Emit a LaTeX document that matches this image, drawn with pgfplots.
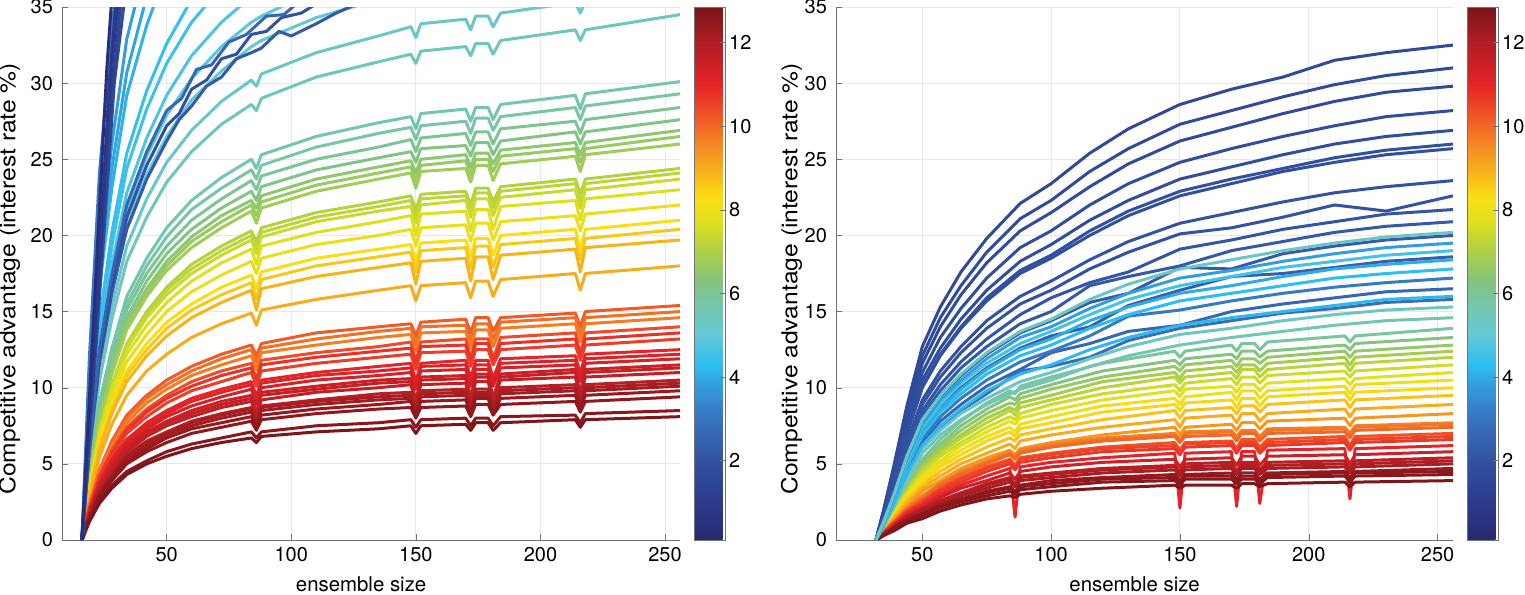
\documentclass[border=0pt]{standalone}
\usepackage{fontspec}
\setmainfont{TeX Gyre Heros}
\newfontfamily\ylabfont[FakeStretch=1.12]{TeX Gyre Heros}
\usepackage{pgfplots}
\usepackage{pgfplotstable}
\pgfplotsset{compat=1.18}
\pgfplotsset{
  colormap={mymap}{rgb255(1pt)=(38,42,110); rgb255(10pt)=(44,58,140); rgb255(20pt)=(50,82,162); rgb255(30pt)=(56,116,192); rgb255(37pt)=(50,152,218); rgb255(43pt)=(45,190,240); rgb255(50pt)=(100,200,215); rgb255(57pt)=(118,198,170); rgb255(63pt)=(132,196,128); rgb255(70pt)=(172,207,70); rgb255(77pt)=(222,224,30); rgb255(83pt)=(250,222,20); rgb255(90pt)=(248,172,28); rgb255(95pt)=(245,140,35); rgb255(103pt)=(240,82,40); rgb255(110pt)=(230,35,40); rgb255(120pt)=(176,30,35); rgb255(128.5pt)=(122,20,25)},
  ln/.style={color of colormap=#1, line width=1.5pt, line join=round},
  panel/.style={
    scale only axis, width=309pt, height=266.5pt,
    ymin=0, ymax=35, xmax=256,
    ytick={0,5,...,35}, xtick={50,100,...,250},
    axis lines*=left, axis line style={-, black!55},
    tick style={black!55}, major tick length=3pt, tick align=inside,
    grid=major, major grid style={black!9, line width=0.5pt},
    tick label style={font=\fontsize{10}{12}\selectfont},
    yticklabel style={xshift=-1pt},
    /pgf/number format/assume math mode=true,
    xlabel={ensemble size},
    ylabel={Competitive advantage (interest rate \%)},
    xlabel style={font=\fontsize{10.2}{12}\selectfont, at={(axis description cs:0.484,-0.0957)}, anchor=base},
    ylabel style={font=\ylabfont\fontsize{11}{13}\selectfont, anchor=center},
    colorbar, point meta min=0.1, point meta max=12.85,
    colorbar style={
      at={(parent axis.north east)}, anchor=north west, xshift=-1.5pt,
      width=15.5pt,
      ytick={2,4,...,12},
      ytick pos=right, yticklabel pos=right,
      tick align=inside, major tick length=2.5pt,
      tick style={black!55}, axis line style={black!55},
      yticklabel style={font=\fontsize{10}{12}\selectfont, xshift=-1.5pt},
      /pgf/number format/assume math mode=true,
    },
  },
}

\pgfplotstableread{
id c1 c2 c3 c4 c5 c6 c7 c8 c9 c10 c11 c12 c13 c14 c15 c16 c17 c18 c19 c20 c21 c22 c23 c24 c25 c26 c27
x 16 19 23 28 34 42 50 60 72 84 86 88 110 135 148 150 152 170 172 174 179 181 184 214 216 218 256
a1 0 1.2 2.4 3.4 4.3 5.0 5.5 6.0 6.4 6.7 6.4 6.8 7.1 7.3 7.5 7.0 7.5 7.6 7.2 7.7 7.7 7.2 7.7 7.9 7.4 7.9 8.1
a2 0 1.3 2.6 3.6 4.5 5.2 5.8 6.3 6.7 7.1 6.7 7.1 7.5 7.7 7.9 7.4 7.9 8.0 7.5 8.0 8.0 7.5 8.1 8.2 7.7 8.3 8.5
a3 0 1.4 2.8 3.9 5.0 5.8 6.4 7.0 7.4 7.8 7.2 7.9 8.3 8.6 8.7 8.0 8.7 8.8 8.1 8.9 8.9 8.2 8.9 9.1 8.4 9.1 9.4
a4 0 1.5 2.9 4.1 5.2 6.0 6.7 7.3 7.7 8.1 7.4 8.2 8.6 8.9 9.1 8.2 9.1 9.2 8.3 9.3 9.3 8.3 9.3 9.5 8.6 9.5 9.8
a5 0 1.5 3.0 4.2 5.4 6.2 6.9 7.5 8.0 8.4 7.4 8.5 8.9 9.2 9.3 8.2 9.4 9.5 8.4 9.5 9.5 8.4 9.6 9.8 8.6 9.8 10.1
a6 0 1.6 3.2 4.4 5.6 6.5 7.1 7.8 8.3 8.7 7.9 8.8 9.2 9.6 9.7 8.7 9.8 9.9 8.9 9.9 9.9 8.9 10.0 10.2 9.2 10.2 10.5
a7 0 1.7 3.3 4.6 5.8 6.8 7.5 8.1 8.7 9.1 8.1 9.2 9.7 10.0 10.2 9.0 10.2 10.3 9.1 10.4 10.4 9.1 10.5 10.7 9.4 10.7 11.0
a8 0 1.7 3.5 4.8 6.1 7.1 7.8 8.5 9.1 9.5 8.3 9.7 10.1 10.5 10.6 9.1 10.7 10.8 9.3 10.9 10.9 9.3 10.9 11.2 9.6 11.2 11.5
a9 0 1.8 3.6 5.0 6.3 7.3 8.1 8.8 9.4 9.9 8.9 10.0 10.5 10.8 11.0 9.9 11.1 11.2 10.1 11.2 11.2 10.1 11.3 11.5 10.4 11.6 11.9
a10 0 1.9 3.8 5.3 6.6 7.7 8.5 9.3 9.9 10.4 9.4 10.5 11.0 11.4 11.6 10.4 11.6 11.8 10.6 11.8 11.8 10.6 11.9 12.1 10.9 12.2 12.5
a11 0 2.0 4.0 5.5 7.0 8.1 9.0 9.8 10.4 11.0 10.1 11.1 11.6 12.0 12.2 11.2 12.3 12.4 11.4 12.5 12.5 11.5 12.5 12.8 11.8 12.8 13.2
a12 0 2.1 4.2 5.9 7.4 8.6 9.5 10.4 11.1 11.6 10.5 11.8 12.3 12.7 13.0 11.7 13.0 13.2 11.9 13.2 13.2 11.9 13.3 13.6 12.2 13.6 14.0
a13 0 2.2 4.4 6.1 7.7 9.0 9.9 10.8 11.5 12.1 11.2 12.3 12.8 13.3 13.5 12.4 13.6 13.7 12.6 13.8 13.8 12.7 13.9 14.2 13.0 14.2 14.6
a14 0 2.3 4.6 6.5 8.2 9.5 10.5 11.4 12.2 12.8 12.1 12.9 13.6 14.0 14.2 13.4 14.3 14.5 13.6 14.6 14.6 13.7 14.6 14.9 14.0 15.0 15.4
a15 0 2.7 5.4 7.6 9.5 11.1 12.2 13.3 14.2 14.9 14.1 15.1 15.8 16.4 16.7 15.7 16.7 16.9 15.9 17.0 17.0 16.0 17.1 17.5 16.4 17.5 18.0
a16 0 3.0 5.9 8.3 10.4 12.1 13.4 14.6 15.6 16.4 15.1 16.5 17.3 17.9 18.2 16.8 18.3 18.5 17.0 18.6 18.6 17.1 18.7 19.1 17.6 19.2 19.7
a17 0 3.1 6.1 8.6 10.8 12.5 13.9 15.1 16.1 16.9 15.8 17.1 18.0 18.6 18.9 17.6 19.0 19.2 17.8 19.3 19.3 17.9 19.4 19.8 18.4 19.8 20.4
a18 0 3.2 6.3 8.8 11.1 12.9 14.3 15.5 16.6 17.4 16.5 17.6 18.5 19.1 19.4 18.3 19.5 19.7 18.6 19.8 19.8 18.7 20.0 20.4 19.1 20.4 21.0
a19 0 3.3 6.6 9.2 11.7 13.5 15.0 16.3 17.4 18.3 17.5 18.5 19.4 20.0 20.4 19.3 20.5 20.7 19.6 20.8 20.8 19.7 20.9 21.3 20.3 21.4 22.0
a20 0 3.5 6.9 9.7 12.2 14.1 15.6 17.0 18.2 19.1 18.1 19.3 20.2 20.9 21.3 20.0 21.4 21.6 20.3 21.7 21.7 20.4 21.9 22.3 21.0 22.4 23.0
a21 0 3.6 7.1 10.0 12.6 14.6 16.1 17.5 18.7 19.7 18.8 19.9 20.9 21.6 21.9 20.8 22.0 22.3 21.2 22.4 22.4 21.3 22.5 23.0 21.8 23.0 23.7
a22 0 3.7 7.3 10.2 12.9 15.0 16.6 18.1 19.3 20.3 19.6 20.5 21.5 22.2 22.6 21.7 22.7 22.9 22.0 23.1 23.1 22.2 23.2 23.7 22.7 23.7 24.4
a23 0 3.9 7.8 10.9 13.8 16.0 17.7 19.2 20.5 21.6 20.8 21.8 22.9 23.7 24.1 23.1 24.2 24.4 23.5 24.6 24.6 23.6 24.7 25.2 24.2 25.3 26.0
a24 0 4.0 8.1 11.3 14.3 16.5 18.3 19.9 21.3 22.3 21.8 22.6 23.7 24.5 24.9 24.1 25.0 25.3 24.5 25.4 25.4 24.7 25.6 26.1 25.3 26.1 26.9
a25 0 4.1 8.3 11.6 14.6 17.0 18.8 20.4 21.8 22.9 22.3 23.2 24.3 25.1 25.5 24.8 25.7 25.9 25.2 26.1 26.1 25.3 26.2 26.8 26.0 26.8 27.6
a26 0 4.3 8.5 11.9 15.1 17.5 19.3 21.0 22.4 23.6 23.0 23.9 25.0 25.8 26.3 25.5 26.4 26.7 25.9 26.8 26.8 26.0 27.0 27.5 26.7 27.6 28.4
a27 0 4.4 8.8 12.3 15.5 18.0 19.9 21.7 23.1 24.3 23.7 24.6 25.8 26.7 27.1 26.3 27.2 27.5 26.7 27.7 27.7 26.9 27.8 28.4 27.6 28.5 29.3
a28 0 4.5 9.0 12.6 16.0 18.5 20.5 22.3 23.8 25.0 24.4 25.3 26.5 27.4 27.8 27.0 28.0 28.3 27.5 28.4 28.4 27.6 28.6 29.2 28.3 29.3 30.1
a29 0 5.2 10.4 14.5 18.3 21.2 23.5 25.5 27.3 28.6 28.2 29.0 30.4 31.4 31.9 31.3 32.1 32.4 31.8 32.6 32.6 31.9 32.8 33.5 32.8 33.5 34.5
a30 0 5.5 10.9 15.3 19.3 22.4 24.8 26.9 28.8 30.2 29.8 30.6 32.0 33.1 33.7 33.0 33.9 34.2 33.5 34.4 34.4 33.7 34.6 35.3 34.6 35.4 36.4
e1 0 1.6 3.1 4.3 5.5 6.4 7.0 7.7 8.2 8.6 7.7 8.7 9.1 9.4 9.5 8.5 9.6 9.7 8.7 9.7 9.7 8.7 9.8 10.0 8.9 10.0 10.3
e2 0 1.7 3.4 4.7 6.0 7.0 7.7 8.3 8.9 9.3 9.0 9.5 9.9 10.3 10.4 9.0 10.5 10.6 9.2 10.7 10.7 9.2 10.7 11.0 9.5 11.0 11.3
e3 0 1.9 3.7 5.2 6.5 7.5 8.3 9.1 9.7 10.2 9.2 10.3 10.8 11.1 11.3 10.2 11.4 11.5 10.4 11.5 11.5 10.4 11.6 11.8 10.7 11.9 12.2
e4 0 2.1 4.1 5.7 7.2 8.4 9.3 10.1 10.8 11.3 10.3 11.5 12.0 12.4 12.6 11.5 12.7 12.8 11.7 12.9 12.9 11.7 12.9 13.2 12.0 13.2 13.6
e5 0 2.3 4.5 6.3 8.0 9.3 10.2 11.1 11.9 12.5 11.7 12.6 13.2 13.7 13.9 12.9 14.0 14.1 13.1 14.2 14.2 13.2 14.3 14.6 13.5 14.6 15.0
e6 0 3.7 7.2 10.1 12.8 14.8 16.4 17.8 19.0 20.0 19.2 20.2 21.2 21.9 22.3 21.3 22.4 22.6 21.6 22.8 22.8 21.8 22.9 23.4 22.3 23.4 24.1
e7 0 4.0 8.0 11.1 14.1 16.3 18.0 19.6 20.9 22.0 21.3 22.2 23.3 24.1 24.5 23.6 24.6 24.9 24.0 25.0 25.0 24.2 25.2 25.7 24.8 25.7 26.5
}\LAraw
\pgfplotstabletranspose[colnames from=id, columns={c1,c2,c3,c4,c5,c6,c7,c8,c9,c10,c11,c12,c13,c14,c15,c16,c17,c18,c19,c20,c21,c22,c23,c24,c25,c26,c27}]{\LA}{\LAraw}

\pgfplotstableread{
id c1 c2 c3 c4 c5 c6 c7 c8 c9 c10 c11 c12 c13 c14 c15 c16 c17 c18
x 32 35 39 44 50 57 65 75 88 100 115 130 150 170 190 210 230 256
b1 0 0.9 2.2 3.9 5.7 6.9 7.9 8.9 9.9 10.5 11.4 12.1 12.8 13.3 13.7 14.1 14.4 14.6
b2 0 0.9 2.3 4.1 6.0 7.2 8.3 9.3 10.4 11.0 11.9 12.7 13.5 13.9 14.4 14.8 15.1 15.3
b3 0 0.9 2.4 4.3 6.2 7.4 8.5 9.6 11.1 11.4 12.0 13.1 13.9 14.4 14.9 15.2 15.6 15.8
b4 0 1.0 2.5 4.5 6.4 7.8 8.9 10.1 11.2 12.3 12.9 13.7 14.1 15.0 15.5 15.9 16.3 16.5
b5 0 1.0 2.6 4.6 6.7 8.1 9.3 10.5 11.7 12.4 13.4 14.7 15.1 15.7 16.2 16.6 16.9 17.2
b6 0 1.1 2.7 4.8 6.9 8.4 9.6 10.9 12.1 12.8 13.9 14.8 15.7 16.2 16.7 17.2 17.5 17.8
b7 0 1.1 2.8 5.0 7.2 8.6 9.9 11.2 12.5 13.2 14.4 15.3 16.2 16.7 17.3 17.8 18.1 18.4
b8 0 1.1 2.9 5.1 7.4 8.9 10.3 11.6 12.9 13.7 14.8 15.8 16.7 17.3 17.9 18.3 18.7 19.0
b9 0 1.2 2.9 5.3 7.6 9.2 10.5 11.9 13.3 14.0 15.2 16.2 17.2 17.7 18.3 18.8 19.2 19.5
b10 0 1.2 3.0 5.5 7.9 9.5 10.9 12.3 13.7 14.5 15.8 16.8 17.8 18.4 19.0 19.5 19.9 20.2
b11 0 1.2 3.0 5.4 7.8 9.4 10.8 12.2 13.6 14.4 15.6 16.2 17.9 17.8 18.8 19.3 19.7 20.0
b12 0 1.3 3.1 5.6 8.2 9.8 11.3 12.7 14.2 15.0 16.7 17.3 18.0 19.0 19.6 20.2 20.6 20.9
b13 0 1.3 3.3 5.9 8.5 10.2 11.7 13.2 14.8 15.9 16.9 17.6 19.1 19.7 20.4 20.9 21.4 21.7
b14 0 1.4 3.4 6.2 8.9 10.7 12.3 13.9 15.5 16.4 17.8 18.9 20.1 20.5 21.2 22.0 21.6 22.6
b15 0 1.4 3.5 6.4 9.2 11.1 12.7 14.4 16.0 17.0 18.4 19.6 20.8 21.5 22.2 22.8 23.2 23.6
b16 0 1.5 3.9 6.9 10.0 12.1 13.9 15.7 17.5 18.5 20.0 21.3 22.6 23.4 24.2 24.8 25.3 25.7
b17 0 1.6 4.0 7.3 10.5 12.6 14.5 16.4 18.3 19.4 21.0 22.3 23.7 24.5 25.3 26.0 26.5 26.9
b18 0 1.7 4.2 7.6 11.0 13.3 15.2 17.2 19.2 20.3 22.0 23.4 24.8 25.7 26.5 27.2 27.8 28.2
b19 0 1.8 4.5 8.0 11.6 14.0 16.1 18.2 20.3 21.5 23.2 24.7 26.2 27.1 28.0 28.8 29.4 29.8
b20 0 1.9 4.7 8.4 12.1 14.6 16.7 18.9 21.1 22.3 24.2 25.7 27.3 28.2 29.1 29.9 30.5 31.0
b21 0 2.0 4.9 8.8 12.7 15.3 17.6 19.8 22.1 23.4 25.4 27.0 28.6 29.6 30.4 31.5 32.0 32.5
b22 0 1.0 2.4 4.3 6.2 7.5 8.6 9.8 10.9 11.5 12.5 13.3 14.1 14.6 15.0 15.4 15.8 16.0
b23 0 1.1 2.8 5.0 7.3 8.7 10.0 11.3 12.6 13.4 14.0 15.4 16.4 17.3 17.5 17.9 18.3 18.6
b24 0 1.6 3.9 7.0 10.1 12.2 14.0 15.9 17.7 18.7 20.3 21.6 22.9 23.7 24.4 25.1 25.6 26.0
}\RBraw
\pgfplotstabletranspose[colnames from=id, columns={c1,c2,c3,c4,c5,c6,c7,c8,c9,c10,c11,c12,c13,c14,c15,c16,c17,c18}]{\RB}{\RBraw}

\pgfplotstableread{
id c1 c2 c3 c4 c5 c6 c7 c8 c9 c10 c11 c12 c13 c14 c15 c16 c17 c18 c19 c20 c21 c22 c23 c24 c25 c26
x 32 35 39 44 50 57 65 75 84 86 88 100 120 148 150 152 170 172 174 179 181 184 214 216 218 256
r1 0 0.3 0.6 1.1 1.4 1.9 2.3 2.7 2.9 2.8 3.0 3.2 3.4 3.6 3.4 3.6 3.6 3.4 3.7 3.7 3.5 3.7 3.8 3.5 3.8 3.9
r2 0 0.3 0.7 1.2 1.6 2.1 2.5 2.9 3.2 3.0 3.3 3.5 3.8 3.9 3.6 4.0 4.0 3.7 4.0 4.0 3.7 4.1 4.2 3.8 4.2 4.3
r3 0 0.3 0.8 1.3 1.7 2.3 2.7 3.2 3.5 3.2 3.6 3.9 4.1 4.3 3.9 4.3 4.4 4.0 4.4 4.4 4.0 4.4 4.5 4.1 4.5 4.7
r4 0 0.4 0.8 1.4 1.9 2.4 2.9 3.4 3.8 3.5 3.9 4.1 4.4 4.6 4.2 4.6 4.7 4.3 4.7 4.7 4.3 4.7 4.8 4.4 4.8 5.0
r5 0 0.4 0.9 1.5 2.0 2.6 3.1 3.7 4.1 3.7 4.2 4.4 4.7 4.9 4.5 5.0 5.1 4.5 5.1 5.1 4.6 5.1 5.2 4.7 5.2 5.4
r6 0 0.4 0.9 1.6 2.1 2.8 3.4 3.9 4.4 4.0 4.5 4.8 5.1 5.3 4.8 5.3 5.4 4.9 5.5 5.5 4.9 5.5 5.6 5.0 5.6 5.8
r7 0 0.4 1.0 1.7 2.3 3.0 3.6 4.2 4.7 1.5 4.8 5.1 5.4 5.7 2.1 5.7 5.8 2.2 5.8 5.8 2.4 5.9 6.0 2.7 6.0 6.2
r8 0 0.5 1.1 1.8 2.4 3.2 3.8 4.5 5.0 4.6 5.1 5.4 5.8 6.0 5.6 6.1 6.2 5.7 6.2 6.2 5.7 6.2 6.4 5.9 6.4 6.6
r9 0 0.5 1.1 1.9 2.6 3.4 4.1 4.8 5.3 4.9 5.4 5.7 6.1 6.4 5.9 6.4 6.5 6.0 6.6 6.6 6.1 6.6 6.8 6.2 6.8 7.0
r10 0 0.5 1.2 2.0 2.7 3.6 4.3 5.0 5.6 5.3 5.7 6.1 6.5 6.8 6.4 6.8 6.9 6.5 7.0 7.0 6.5 7.0 7.1 6.7 7.2 7.4
r11 0 0.5 1.2 2.1 2.9 3.7 4.5 5.2 5.8 5.5 5.9 6.3 6.7 7.0 6.6 7.1 7.2 6.8 7.2 7.2 6.8 7.3 7.4 7.0 7.5 7.7
m1 0 0.5 1.3 2.2 3.2 3.9 4.7 5.4 5.9 5.6 6.0 6.4 6.9 7.4 6.9 7.4 7.6 7.2 7.7 7.7 7.3 7.8 8.0 7.5 8.0 8.3
m2 0 0.6 1.4 2.4 3.4 4.2 5.0 5.7 6.3 6.0 6.5 6.9 7.4 7.9 7.4 8.0 8.2 7.7 8.3 8.3 7.8 8.3 8.6 8.1 8.6 8.9
m3 0 0.6 1.5 2.6 3.6 4.5 5.3 6.1 6.7 6.5 6.9 7.3 7.9 8.5 8.0 8.5 8.7 8.3 8.8 8.8 8.4 8.9 9.2 8.7 9.2 9.5
m4 0 0.7 1.6 2.7 3.8 4.8 5.6 6.5 7.1 6.8 7.3 7.7 8.4 8.9 8.5 9.0 9.2 8.7 9.3 9.3 8.8 9.4 9.7 9.2 9.7 10.0
m5 0 0.7 1.6 2.8 4.0 5.0 5.9 6.8 7.4 7.1 7.6 8.1 8.8 9.3 8.9 9.4 9.7 9.2 9.8 9.8 9.3 9.8 10.1 9.6 10.2 10.5
m6 0 0.7 1.7 3.0 4.2 5.2 6.2 7.1 7.8 7.6 8.0 8.5 9.2 9.8 9.4 9.9 10.1 9.7 10.2 10.2 9.8 10.3 10.6 10.2 10.6 11.0
m7 0 0.7 1.8 3.1 4.4 5.5 6.4 7.4 8.1 7.9 8.3 8.9 9.6 10.2 9.8 10.3 10.6 10.2 10.7 10.7 10.3 10.8 11.1 10.7 11.1 11.5
m8 0 0.8 1.9 3.2 4.6 5.7 6.7 7.7 8.5 8.2 8.7 9.2 10.0 10.7 10.3 10.7 11.0 10.6 11.2 11.2 10.7 11.2 11.6 11.1 11.6 12.0
m9 0 0.8 1.9 3.3 4.7 5.9 6.9 8.0 8.7 8.5 9.0 9.5 10.4 11.0 10.6 11.1 11.4 11.0 11.5 11.5 11.1 11.6 12.0 11.5 12.0 12.4
m10 0 0.8 2.0 3.5 4.9 6.1 7.2 8.3 9.0 8.9 9.3 9.9 10.7 11.4 11.1 11.5 11.8 11.4 11.9 11.9 11.6 12.0 12.4 12.0 12.4 12.8
m11 0 0.9 2.1 3.6 5.1 6.3 7.5 8.6 9.4 9.2 9.6 10.2 11.1 11.8 11.5 11.9 12.2 11.9 12.4 12.4 12.0 12.4 12.8 12.5 12.9 13.3
m12 0 0.9 2.2 3.8 5.3 6.6 7.8 9.0 9.8 9.6 10.1 10.7 11.6 12.4 12.0 12.4 12.8 12.4 12.9 12.9 12.5 13.0 13.4 13.0 13.4 13.9
q1 0 0.3 0.8 1.3 1.7 2.2 2.6 3.1 3.4 3.1 3.5 3.7 4.0 4.1 3.8 4.2 4.2 3.9 4.2 4.2 3.9 4.3 4.4 4.0 4.4 4.5
q2 0 0.4 0.9 1.5 2.0 2.5 3.0 3.6 4.0 3.6 4.1 4.3 4.6 4.8 4.4 4.8 4.9 4.4 4.9 4.9 4.5 4.9 5.0 4.6 5.0 5.2
q3 0 0.5 1.1 1.9 2.5 3.3 4.0 4.7 5.2 4.8 5.3 5.6 6.0 6.2 5.8 6.3 6.4 5.9 6.4 6.4 5.9 6.4 6.6 6.1 6.6 6.8
q4 0 0.5 1.2 2.1 2.8 3.7 4.4 5.1 5.7 5.4 5.8 6.2 6.6 6.9 6.5 7.0 7.1 6.7 7.1 7.1 6.7 7.2 7.3 6.9 7.4 7.6
}\RRraw
\pgfplotstabletranspose[colnames from=id, columns={c1,c2,c3,c4,c5,c6,c7,c8,c9,c10,c11,c12,c13,c14,c15,c16,c17,c18,c19,c20,c21,c22,c23,c24,c25,c26}]{\RR}{\RRraw}

\begin{document}
\begin{tikzpicture}
\path[use as bounding box] (0,0) rectangle (762.5pt,297pt);
% ---------------- left panel ----------------
\begin{axis}[panel, at={(31pt,27pt)}, anchor=south west, xmin=8,
  ylabel style={at={(axis description cs:-0.085,0.49)}}]
\addplot[ln=400] table[x=x,y=a30]{\LA};
\addplot[ln=416] table[x=x,y=a29]{\LA};
\addplot[ln=431] table[x=x,y=a28]{\LA};
\addplot[ln=447] table[x=x,y=a27]{\LA};
\addplot[ln=463] table[x=x,y=a26]{\LA};
\addplot[ln=478] table[x=x,y=a25]{\LA};
\addplot[ln=514] table[x=x,y=e7]{\LA};
\addplot[ln=502] table[x=x,y=a24]{\LA};
\addplot[ln=525] table[x=x,y=a23]{\LA};
\addplot[ln=549] table[x=x,y=a22]{\LA};
\addplot[ln=561] table[x=x,y=e6]{\LA};
\addplot[ln=573] table[x=x,y=a21]{\LA};
\addplot[ln=596] table[x=x,y=a20]{\LA};
\addplot[ln=620] table[x=x,y=a19]{\LA};
\addplot[ln=643] table[x=x,y=a18]{\LA};
\addplot[ln=667] table[x=x,y=a17]{\LA};
\addplot[ln=690] table[x=x,y=a16]{\LA};
\addplot[ln=698] table[x=x,y=a15]{\LA};
\addplot[ln=792] table[x=x,y=a14]{\LA};
\addplot[ln=769] table[x=x,y=e5]{\LA};
\addplot[ln=753] table[x=x,y=a13]{\LA};
\addplot[ln=808] table[x=x,y=a12]{\LA};
\addplot[ln=839] table[x=x,y=e4]{\LA};
\addplot[ln=824] table[x=x,y=a11]{\LA};
\addplot[ln=855] table[x=x,y=a10]{\LA};
\addplot[ln=863] table[x=x,y=e3]{\LA};
\addplot[ln=878] table[x=x,y=a9]{\LA};
\addplot[ln=894] table[x=x,y=a8]{\LA};
\addplot[ln=902] table[x=x,y=e2]{\LA};
\addplot[ln=910] table[x=x,y=a7]{\LA};
\addplot[ln=925] table[x=x,y=a6]{\LA};
\addplot[ln=941] table[x=x,y=e1]{\LA};
\addplot[ln=949] table[x=x,y=a5]{\LA};
\addplot[ln=965] table[x=x,y=a4]{\LA};
\addplot[ln=973] table[x=x,y=a3]{\LA};
\addplot[ln=980] table[x=x,y=a2]{\LA};
\addplot[ln=996] table[x=x,y=a1]{\LA};
% blue lines leaving the top
\addplot[ln=384] coordinates {(16,0)(19,5.9)(23,11.7)(28,16.4)(34,20.7)(42,24.0)(50,26.5)(60,28.9)(72,30.8)(84,32.4)(88,32.8)(110,34.3)(135,35.5)};
\addplot[ln=376] coordinates {(16,0)(19,6.2)(23,12.3)(28,17.2)(34,21.7)(42,25.2)(50,27.9)(60,30.3)(72,32.4)(84,34.0)(88,34.4)(110,36.1)};
\addplot[ln=361] coordinates {(16,0)(19,6.5)(23,12.9)(28,18.1)(34,22.8)(42,26.4)(50,29.2)(60,31.8)(72,34.0)(84,35.7)};
\addplot[ln=345] coordinates {(16,0)(19,6.9)(23,13.8)(28,19.3)(34,24.4)(42,28.3)(50,31.3)(60,34.0)(72,36.3)};
\addplot[ln=337] coordinates {(16,0)(19,7.2)(23,14.4)(28,20.2)(34,25.4)(42,29.5)(50,32.6)(60,35.5)};
\addplot[ln=314] coordinates {(16,0)(19,8.3)(23,16.5)(28,23.1)(34,29.2)(42,33.8)(50,37.4)};
\addplot[ln=298] coordinates {(16,0)(19,8.7)(23,17.4)(28,24.4)(34,30.7)(42,35.7)};
\addplot[ln=290] coordinates {(16,0)(19,9.3)(23,18.6)(28,26.0)(34,32.9)(42,38.1)};
\addplot[ln=267] coordinates {(16,0)(19,10.5)(23,21)(28,29.4)(34,37.1)};
\addplot[ln=235] coordinates {(16,0)(19,12)(23,24)(28,33.6)(34,42.4)};
\addplot[ln=165] coordinates {(16,0)(19,5.8)(23,11.6)(28,16.2)(34,20.4)(42,23.7)(50,26.2)(55,27.6)(60,28.5)(66,29.8)(72,30.4)(78,31.6)(84,32.0)(88,32.3)(95,33.4)(100,33.1)(110,33.9)(118,34.6)(125,35.1)(135,35.6)};
\addplot[ln=141] coordinates {(16,0)(19,6)(23,12)(28,16.8)(34,21.2)(42,24.6)(50,27.2)(55,28.0)(60,29.6)(66,30.2)(72,31.6)(78,31.9)(84,33.2)(90,33.4)(96,34.3)(104,34.6)(112,35.4)};
\addplot[ln=196] coordinates {(16,0)(19,6.2)(23,12.5)(28,17.4)(34,22.0)(42,25.5)(50,28.2)(56,29.0)(62,30.9)(68,31.2)(75,32.7)(82,33.2)(90,34.4)(97,34.5)(105,35.6)};
\addplot[ln=125] coordinates {(16,0)(22,13.5)(29,30)(35,38)};
\addplot[ln=102] coordinates {(16,0)(22,14.5)(28,29)(33,38)};
\addplot[ln=78] coordinates {(16,0)(22,15)(28,31)(32,38)};
\addplot[ln=63] coordinates {(16,0)(22,16)(27,30)(31,38)};
\addplot[ln=24] coordinates {(16,0)(21,15.5)(26,31)(29,38)};
\end{axis}
% ---------------- right panel ----------------
\begin{axis}[panel, at={(418pt,27pt)}, anchor=south west, width=308.5pt, xmin=16.5,
  ylabel style={at={(axis description cs:-0.072,0.49)}}]
\addplot[ln=455] table[x=x,y=m12]{\RR};
\addplot[ln=486] table[x=x,y=m11]{\RR};
\addplot[ln=510] table[x=x,y=m10]{\RR};
\addplot[ln=533] table[x=x,y=m9]{\RR};
\addplot[ln=557] table[x=x,y=m8]{\RR};
\addplot[ln=580] table[x=x,y=m7]{\RR};
\addplot[ln=604] table[x=x,y=m6]{\RR};
\addplot[ln=627] table[x=x,y=m5]{\RR};
\addplot[ln=651] table[x=x,y=m4]{\RR};
\addplot[ln=674] table[x=x,y=m3]{\RR};
\addplot[ln=698] table[x=x,y=m2]{\RR};
\addplot[ln=722] table[x=x,y=m1]{\RR};
\addplot[ln=745] table[x=x,y=r11]{\RR};
\addplot[ln=761] table[x=x,y=q4]{\RR};
\addplot[ln=776] table[x=x,y=r10]{\RR};
\addplot[ln=800] table[x=x,y=r9]{\RR};
\addplot[ln=816] table[x=x,y=q3]{\RR};
\addplot[ln=831] table[x=x,y=r8]{\RR};
\addplot[ln=855] table[x=x,y=r7]{\RR};
\addplot[ln=894] table[x=x,y=r6]{\RR};
\addplot[ln=918] table[x=x,y=r5]{\RR};
\addplot[ln=929] table[x=x,y=q2]{\RR};
\addplot[ln=941] table[x=x,y=r4]{\RR};
\addplot[ln=965] table[x=x,y=r3]{\RR};
\addplot[ln=973] table[x=x,y=q1]{\RR};
\addplot[ln=980] table[x=x,y=r2]{\RR};
\addplot[ln=996] table[x=x,y=r1]{\RR};
\addplot[ln=118] table[x=x,y=b21]{\RB};
\addplot[ln=125] table[x=x,y=b20]{\RB};
\addplot[ln=125] table[x=x,y=b19]{\RB};
\addplot[ln=133] table[x=x,y=b18]{\RB};
\addplot[ln=133] table[x=x,y=b17]{\RB};
\addplot[ln=141] table[x=x,y=b24]{\RB};
\addplot[ln=141] table[x=x,y=b16]{\RB};
\addplot[ln=149] table[x=x,y=b15]{\RB};
\addplot[ln=149] table[x=x,y=b14]{\RB};
\addplot[ln=157] table[x=x,y=b13]{\RB};
\addplot[ln=165] table[x=x,y=b12]{\RB};
\addplot[ln=172] table[x=x,y=b11]{\RB};
\addplot[ln=180] table[x=x,y=b23]{\RB};
\addplot[ln=196] table[x=x,y=b4]{\RB};
\addplot[ln=212] table[x=x,y=b3]{\RB};
\addplot[ln=235] table[x=x,y=b5]{\RB};
\addplot[ln=431] table[x=x,y=b1]{\RB};
\addplot[ln=408] table[x=x,y=b2]{\RB};
\addplot[ln=322] table[x=x,y=b22]{\RB};
\addplot[ln=329] table[x=x,y=b6]{\RB};
\addplot[ln=306] table[x=x,y=b7]{\RB};
\addplot[ln=353] table[x=x,y=b8]{\RB};
\addplot[ln=290] table[x=x,y=b9]{\RB};
\addplot[ln=408] table[x=x,y=b10]{\RB};
\end{axis}
\end{tikzpicture}
\end{document}
